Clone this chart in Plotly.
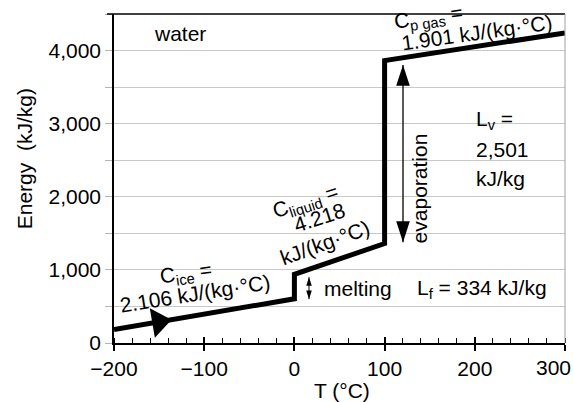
import plotly.graph_objects as go

# Main heating curve of water
T = [-200, 0, 0, 100, 100, 300]
E = [184, 605, 939, 1361, 3862, 4242]

# direction arrowhead on the ice segment
ice_arrow_T = [-150.4]
ice_arrow_E = [288.5]

# double-headed arrows
evap_T = [120.4, 120.4]
evap_E = [1378, 3804]
melt_T = [16.2, 16.2]
melt_E = [600, 900]

x_ticks = [-200, -100, 0, 100, 200, 300]
x_labels = ["\u2212200", "\u2212100", "0", "100", "200", ""]
x_last_label = "300"
y_ticks = [0, 500, 1000, 1500, 2000, 2500, 3000, 3500, 4000, 4500]
y_labels = ["0", "", "1,000", "", "2,000", "", "3,000", "", "4,000", ""]

FONT = "Liberation Sans, Arial, Helvetica, sans-serif"
FS = 21

fig = go.Figure()

fig.add_trace(go.Scatter(x=T, y=E, mode="lines",
                         line=dict(color="black", width=5),
                         hoverinfo="skip", showlegend=False))
# dummy trace to activate overlay axis for crossing ticks
fig.add_trace(go.Scatter(x=[T[0], T[-1]], y=[None, None], xaxis="x2",
                         mode="lines", hoverinfo="skip", showlegend=False))

fig.add_trace(go.Scatter(x=ice_arrow_T, y=ice_arrow_E, mode="markers",
                         marker=dict(symbol="triangle-right", size=26, angle=-9.7,
                                     color="black", line=dict(width=0)),
                         hoverinfo="skip", showlegend=False))

fig.add_trace(go.Scatter(x=evap_T, y=evap_E, mode="lines+markers",
                         line=dict(color="black", width=1.3),
                         marker=dict(symbol="arrow", size=22, angle=[180, 0],
                                     color="black", line=dict(width=0)),
                         hoverinfo="skip", showlegend=False))
fig.add_trace(go.Scatter(x=melt_T, y=melt_E, mode="lines+markers",
                         line=dict(color="black", width=1),
                         marker=dict(symbol="arrow", size=9, angle=[180, 0],
                                     color="black", line=dict(width=0)),
                         hoverinfo="skip", showlegend=False))

labels = [
    # text, T, E, angle, xanchor
    ("water", -158, 4229, 0, "left"),
    ("C<sub>ice</sub> =", -120.2, 941, -8, "center"),
    ("2.106 kJ/(kg\u00b7\u00b0C)", -110.2, 681, -9, "center"),
    ("C<sub>liquid</sub> =", 12.9, 1925, -18, "center"),
    ("4.218", 27.3, 1722, -18, "center"),
    ("kJ/(kg\u00b7\u00b0C)", 33.9, 1379, -20, "center"),
    ("C<sub>p gas</sub> =", 149.2, 4448, -8, "center"),
    ("1.901 kJ/(kg\u00b7\u00b0C)", 202.4, 4242, -8, "center"),
    ("evaporation", 138.1, 2114, -90, "center"),
    ("L<sub>v</sub> =", 199.1, 3051, 0, "left"),
    ("2,501", 199.1, 2640, 0, "left"),
    ("kJ/kg", 199.1, 2256, 0, "left"),
    ("melting", 30.6, 749, 0, "left"),
    ("L<sub>f</sub> = 334 kJ/kg", 133.7, 736, 0, "left"),
]
annotations = []
for txt, x, y, ang, xa in labels:
    annotations.append(dict(text=txt, x=x, y=y, xref="x", yref="y",
                            textangle=ang, xanchor=xa, yanchor="middle",
                            showarrow=False,
                            font=dict(family=FONT, size=FS, color="black")))

# last x tick label, pulled inside the page edge as in the reference
annotations.append(dict(text=x_last_label, xref="paper", yref="paper",
                        x=1 + 8 / 451, y=-(367 - 342.7) / 329,
                        xanchor="right", yanchor="middle", showarrow=False,
                        font=dict(family=FONT, size=FS, color="black")))

# axis titles
annotations.append(dict(text="Energy\u00a0\u00a0(kJ/kg)", xref="paper", yref="paper",
                        x=(24 - 114) / 451, y=(342.7 - 159) / 329, textangle=-90,
                        xanchor="center", yanchor="middle", showarrow=False,
                        font=dict(family=FONT, size=FS, color="black")))
annotations.append(dict(text="T (\u00b0C)", xref="paper", yref="paper",
                        x=(341.5 - 114) / 451, y=-(390 - 342.7) / 329,
                        xanchor="center", yanchor="middle", showarrow=False,
                        font=dict(family=FONT, size=FS, color="black")))

fig.update_layout(
    width=573, height=402,
    margin=dict(l=114, r=8, t=14, b=59),
    paper_bgcolor="white", plot_bgcolor="white",
    font=dict(family=FONT, size=FS, color="black"),
    annotations=annotations,
    xaxis=dict(range=[-200, 300], tickvals=x_ticks, ticktext=x_labels,
               ticks="outside", ticklen=6, tickwidth=1.5, tickcolor="black",
               showline=True, linecolor="black", linewidth=1.5,
               showgrid=False, zeroline=False,
               minor=dict(ticks="inside", dtick=20, tick0=0, ticklen=5,
                          tickwidth=1.2, tickcolor="black", showgrid=False),
               tickfont=dict(family=FONT, size=FS, color="black")),
    xaxis2=dict(range=[-200, 300], overlaying="x", side="bottom", anchor="y",
                tickvals=x_ticks, ticks="inside", ticklen=6, tickwidth=1.5,
                tickcolor="black", showticklabels=False, showgrid=False,
                zeroline=False, showline=False),
    yaxis=dict(range=[0, 4500], tickvals=y_ticks, ticktext=y_labels,
               ticks="outside", ticklen=7, tickwidth=1, tickcolor="#b4b4b4",
               showline=True, linecolor="black", linewidth=1.5,
               showgrid=True, gridcolor="#c8c8c8", gridwidth=1,
               zeroline=False,
               tickfont=dict(family=FONT, size=FS, color="black")),
    shapes=[
        dict(type="line", xref="paper", yref="paper", x0=-7 / 451, x1=1, y0=1, y1=1,
             line=dict(color="black", width=1.5)),
        dict(type="line", xref="paper", yref="paper", x0=1, x1=1, y0=0, y1=1,
             line=dict(color="#a0a0a0", width=1)),
    ],
)

fig.write_html("out.html")
